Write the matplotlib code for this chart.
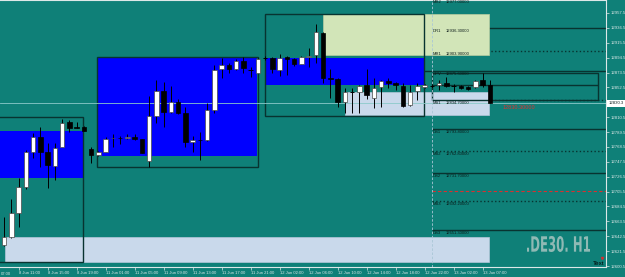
import matplotlib
matplotlib.use('Agg')
import matplotlib.pyplot as plt
from matplotlib.patches import Rectangle, PathPatch
from matplotlib.textpath import TextPath
from matplotlib.font_manager import FontProperties
from matplotlib.transforms import Affine2D, blended_transform_factory
from matplotlib.ticker import FormatStrFormatter

plt.rcParams['font.family'] = ['Liberation Sans', 'DejaVu Sans']

bg = '#0f8078'
light = '#dde8e8'
dark = '#083330'

# .DE30 H1 candles, bar 0 = 8 Jun 09:00 ... bar 67 = 13 Jun 08:00
opens = [12630.1, 12641.4, 12675.3, 12712.0, 12761.4, 12782.5, 12761.4, 12741.6, 12768.4, 12803.7,
         12796.6, 12796.6, 12765.6, 12757.1, 12761.4, 12780.4, 12781.1, 12780.4, 12782.5, 12779.7,
         12748.7, 12812.2, 12847.4, 12817.8, 12831.9, 12816.4, 12775.5, 12778.3, 12778.3, 12820.6,
         12878.5, 12884.1, 12878.5, 12889.8, 12877.1, 12872.8, 12894.0, 12894.0, 12877.1, 12895.4,
         12892.6, 12885.5, 12895.4, 12898.2, 12929.3, 12865.8, 12864.4, 12831.9, 12846.0, 12846.0,
         12855.9, 12837.6, 12853.1, 12861.5, 12858.7, 12854.5, 12827.7, 12847.4, 12853.1, 12854.5,
         12855.9, 12858.7, 12854.5, 12854.5, 12853.1, 12853.1, 12863.0, 12855.9]
highs = [12669.6, 12695.0, 12724.7, 12764.2, 12788.2, 12796.6, 12774.1, 12774.1, 12807.9, 12806.5,
         12803.7, 12798.0, 12768.4, 12762.8, 12782.5, 12786.8, 12783.9, 12786.8, 12786.8, 12779.7,
         12840.4, 12863.0, 12860.1, 12854.5, 12836.1, 12824.9, 12783.9, 12789.6, 12830.5, 12884.1,
         12894.0, 12886.9, 12892.6, 12895.4, 12881.3, 12894.0, 12896.8, 12895.4, 12899.6, 12896.8,
         12894.0, 12896.8, 12908.1, 12942.0, 12930.7, 12878.5, 12865.8, 12851.7, 12851.7, 12855.9,
         12878.5, 12865.8, 12863.0, 12865.8, 12860.1, 12858.7, 12855.9, 12858.7, 12857.3, 12857.3,
         12863.0, 12867.2, 12857.3, 12855.9, 12854.5, 12863.0, 12872.8, 12863.0]
lows = [12628.7, 12640.0, 12655.5, 12709.2, 12752.9, 12740.2, 12710.6, 12721.8, 12768.4, 12789.6,
        12795.2, 12791.0, 12745.8, 12755.7, 12761.4, 12768.4, 12772.6, 12779.7, 12778.3, 12759.9,
        12740.2, 12802.3, 12796.6, 12816.4, 12815.0, 12768.4, 12761.4, 12750.1, 12776.9, 12816.4,
        12865.8, 12872.8, 12877.1, 12872.8, 12867.2, 12872.8, 12891.2, 12872.8, 12868.6, 12870.0,
        12882.7, 12885.5, 12881.3, 12886.9, 12858.7, 12837.6, 12824.9, 12816.4, 12816.4, 12816.4,
        12836.1, 12823.4, 12824.9, 12851.7, 12848.8, 12824.9, 12826.3, 12834.7, 12851.7, 12851.7,
        12848.8, 12853.1, 12846.0, 12850.3, 12848.8, 12851.7, 12853.1, 12830.3]
closes = [12641.4, 12675.3, 12712.0, 12761.4, 12782.5, 12761.4, 12743.0, 12767.0, 12802.3, 12795.2,
          12795.9, 12791.0, 12757.1, 12760.7, 12779.7, 12781.1, 12780.4, 12782.5, 12779.7, 12759.9,
          12812.2, 12847.4, 12817.8, 12831.9, 12816.4, 12775.5, 12778.3, 12777.6, 12820.6, 12877.1,
          12884.1, 12878.5, 12889.8, 12879.9, 12877.1, 12892.6, 12894.0, 12878.5, 12894.0, 12892.6,
          12885.5, 12895.4, 12896.8, 12930.7, 12865.8, 12864.4, 12831.9, 12846.0, 12846.0, 12854.5,
          12841.8, 12851.7, 12861.5, 12858.7, 12855.9, 12826.3, 12846.0, 12854.5, 12855.9, 12854.5,
          12858.7, 12854.5, 12854.5, 12851.7, 12850.3, 12861.5, 12855.9, 12830.3]

time_labels = ['8 Jun 11:00', '8 Jun 15:00', '8 Jun 19:00', '11 Jun 01:00', '11 Jun 05:00',
               '11 Jun 09:00', '11 Jun 13:00', '11 Jun 17:00', '11 Jun 21:00', '12 Jun 02:00',
               '12 Jun 06:00', '12 Jun 10:00', '12 Jun 14:00', '12 Jun 18:00', '12 Jun 22:00',
               '13 Jun 02:00', '13 Jun 07:00']
time_bars = [2, 6, 10, 14, 18, 22, 26, 30, 34, 38, 42, 46, 50, 54, 58, 62, 66]
first_label = '07:00'
# 12831.5 is hidden behind the last-price tag
price_ticks = [12600.5, 12621.5, 12642.5, 12663.5, 12684.5, 12705.5, 12726.5, 12747.5, 12768.5,
               12789.5, 12810.5, 12852.5, 12873.5, 12894.5, 12915.5, 12936.5, 12957.5]
last_price = 12830.3

# session boxes: (bar from, bar to, low, high)
blue_boxes = [(-1.0, 10.9, 12724.7, 12791.0), (12.97, 34.9, 12755.7, 12894.0), (36.0, 57.9, 12855.9, 12894.0)]
outline_boxes = [(-1.0, 10.9, 12606.1, 12810.7), (12.83, 35.03, 12740.2, 12895.4), (36.0, 57.9, 12812.2, 12956.1)]
green_box = (44.0, 66.9, 12898.2, 12956.1)
pale_boxes = [(0.1, 66.9, 12606.1, 12641.4), (47.0, 66.9, 12813.6, 12846.0)]
range_box = (59.0, 81.9, 12834.7, 12872.8, 12855.9)

# pivot levels
level_names = ['MR2', 'DR1', 'MR1', 'OPV', 'MS1', 'DS1', 'MS2', 'DS2', 'MS3', 'DS3']
level_prices = [12977.0, 12936.3, 12903.9, 12875.6, 12834.7, 12793.8, 12762.8, 12731.7, 12692.2, 12651.3]
red_level = 12706.3
day_start = 59.0

fig = plt.figure(figsize=(6.25, 2.77), dpi=100, facecolor=bg)
ax = fig.add_axes([0, 10/277, 606/625, 267/277], facecolor=bg)
ax.set_xlim(-0.552, 83.03)
ax.set_ylim(12599.1, 12975.8)

for x0, x1, lo, hi in pale_boxes:
    ax.add_patch(Rectangle((x0, lo), x1-x0, hi-lo, fc='#c9d9eb', ec='#b4c6da', lw=0.5, zorder=1))
for x0, x1, lo, hi in blue_boxes:
    ax.add_patch(Rectangle((x0, lo), x1-x0, hi-lo, fc='#0000ff', ec='none', zorder=1))
x0, x1, lo, hi = green_box
ax.add_patch(Rectangle((x0, lo), x1-x0, hi-lo, fc='#d2e5b8', ec='#b8cca0', lw=0.5, zorder=1))
for x0, x1, lo, hi in outline_boxes:
    ax.add_patch(Rectangle((x0, lo), x1-x0, hi-lo, fc='none', ec=dark, lw=1.0, zorder=1.5))

# pivot lines
for name, p in zip(level_names, level_prices):
    ls = ':' if name.startswith('M') else '-'
    start = 57.5 if name == 'OPV' else day_start
    ax.hlines(p, start, 84, color=dark, lw=1.0, ls=ls, zorder=0.8)
    ax.text(day_start + 0.15, p - 1, name, fontsize=3, color='#0a1a18', va='top', zorder=6, clip_on=True)
    ax.text(day_start + 1.9, p - 1, '{:.5f}'.format(p), fontsize=3, color='#0a1a18', va='top',
            zorder=6, clip_on=True)
ax.hlines(red_level, day_start, 84, color='#d83030', lw=0.8, ls=(0, (3, 2)), zorder=0.8)

x0, x1, lo, hi, mid = range_box
ax.add_patch(Rectangle((x0, lo), x1-x0, hi-lo, fc='none', ec=dark, lw=1.0, zorder=2))
ax.hlines(mid, x0, x1, color=dark, lw=1.0, zorder=2)

ax.axvline(day_start, color='#a9c6d6', lw=0.6, ls=(0, (3, 2)), zorder=2.2)
ax.axhline(last_price, color='#8ccaca', lw=0.6, zorder=2.3)

# candles
w = 0.62
for i in range(len(opens)):
    o, h, l, c = opens[i], highs[i], lows[i], closes[i]
    ax.vlines(i, l, h, color='black', lw=0.7, zorder=4)
    if c > o:
        ax.add_patch(Rectangle((i - w/2, o), w, c - o, fc='white', ec='#4a4a4a', lw=0.5, zorder=5))
    elif c < o:
        ax.add_patch(Rectangle((i - w/2, c), w, o - c, fc='black', ec='black', lw=0.5, zorder=5))
    else:
        ax.hlines(o, i - w/2, i + w/2, color='black', lw=0.7, zorder=5)

ax.text(68.8, last_price - 5.5, '{:.5f}'.format(last_price), fontsize=4, color='#e03030',
        va='center', zorder=6)
ax.text(81.2, 12604.5, 'Text', fontsize=4.5, color='black', va='center', zorder=6)
ax.plot([82.5], [12611.5], marker='v', ms=1.5, color='#d03030', zorder=6)

# axes styling
ax.spines['left'].set_visible(False)
for side in ['right', 'bottom', 'top']:
    ax.spines[side].set_color(light)
    ax.spines[side].set_linewidth(0.8)

ax.set_xticks(time_bars, labels=time_labels)
for lbl in ax.get_xticklabels():
    lbl.set_horizontalalignment('left')
ax.set_yticks(price_ticks)
ax.yaxis.set_major_formatter(FormatStrFormatter('%.1f'))
ax.yaxis.tick_right()
ax.tick_params(axis='x', colors=light, labelsize=3, length=2, width=0.5, pad=0.8)
ax.tick_params(axis='y', colors=light, labelsize=3.1, length=2, width=0.5, pad=1.5)

ax.text(0.001, -0.028, first_label, transform=ax.transAxes, fontsize=3, color=light, va='center',
        clip_on=False)

tr2 = blended_transform_factory(ax.transAxes, ax.transData)
ax.text(1.004, last_price, '{:.1f}'.format(last_price), transform=tr2, fontsize=3.1, color='#102020',
        va='center', ha='left', clip_on=False, zorder=10,
        bbox=dict(boxstyle='square,pad=0.35', fc='white', ec='none'))

# watermark
tp = TextPath((0, 0), '.DE30. H1', size=10, prop=FontProperties(family='DejaVu Sans', weight='bold'))
bb = tp.get_extents()
tf = Affine2D().translate(-bb.x0, -bb.y0).scale(0.63/bb.width, 0.16/bb.height).translate(5.27, 0.25)
fig.add_artist(PathPatch(tp, transform=tf + fig.dpi_scale_trans, fc='#8fb9b4', lw=0, zorder=3))

fig.savefig('out.png', dpi=100, facecolor=bg)
